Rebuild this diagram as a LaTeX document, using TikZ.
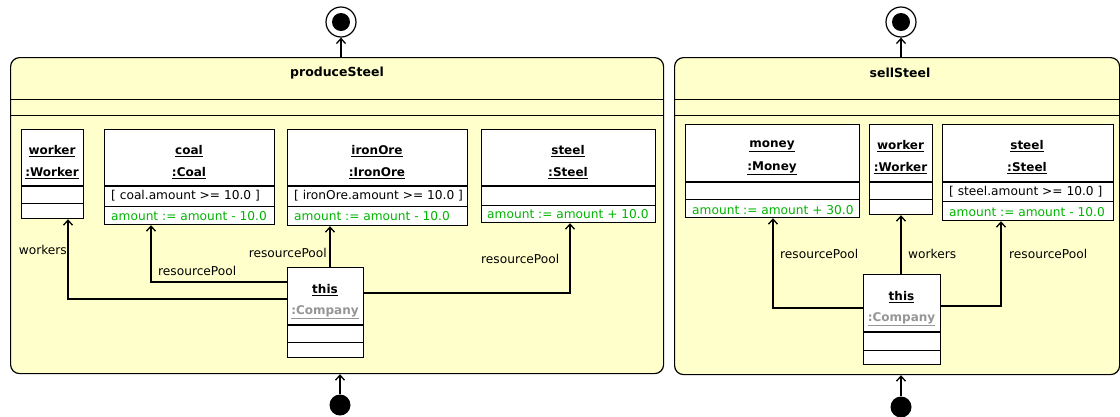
\documentclass[tikz,border=0pt]{standalone}
\usepackage{fontspec}
\setmainfont{DejaVu Sans}
\usetikzlibrary{arrows.meta,calc}
\definecolor{frameyellow}{RGB}{255,255,204}
\definecolor{actgreen}{RGB}{0,180,0}
\definecolor{compgray}{RGB}{150,150,150}
\begin{document}
\begin{tikzpicture}[x=1pt,y=-1pt,
  frame/.style={draw, line width=1.2pt, fill=frameyellow, rounded corners=9pt, anchor=north west, inner sep=0pt},
  objbox/.style={draw, line width=1.2pt, fill=white, anchor=north west, inner sep=0pt},
  sep/.style={line width=0.9pt},
  hsep/.style={line width=1.8pt},
  conn/.style={line width=1.3pt, -{Straight Barb[length=5pt,width=9pt,line width=1.3pt]}},
  title/.style={font=\fontsize{12.5}{14}\selectfont\bfseries, inner sep=0pt},
  hdr/.style={font=\fontsize{12}{14}\selectfont\bfseries, inner sep=0pt},
  txt/.style={font=\fontsize{12.2}{14}\selectfont, anchor=west, inner sep=0pt},
  gtxt/.style={txt, text=actgreen},
  lbl/.style={font=\fontsize{12.2}{14}\selectfont, inner sep=0pt},
  finout/.style={circle, draw, line width=1.2pt, fill=white, minimum size=30pt, inner sep=0pt},
  finin/.style={circle, fill=black, minimum size=18pt, inner sep=0pt},
  initst/.style={circle, fill=black, minimum size=21pt, inner sep=0pt},
]
\useasboundingbox (0,0) rectangle (1120,416);

% ---------------- produceSteel ----------------
\node[frame, minimum width=653pt, minimum height=316pt] (f1) at (10,57) {};
\node[title] (t1) at (337,73) {produceSteel};
\draw[sep] (10,99) -- (663,99);
\draw[sep] (10,115) -- (663,115);

\node[finout] (fin1) at (341,22) {};
\node[finin] (fin1in) at (341,22) {};
\draw[conn] (f1.north -| fin1) -- (fin1.south);
\node[initst] (init1) at (340,405) {};
\draw[conn] (init1.north) -- (init1.north |- f1.south);

% worker
\node[objbox, minimum width=62pt, minimum height=89pt] (worker1) at (21,129) {};
\draw[hsep] (21,186) -- (83,186);
\draw[sep] (21,203) -- (83,203);
\node[hdr] (worker1n) at (52,151) {\underline{worker}};
\node[hdr] (worker1t) at (52,173) {\underline{:Worker}};

% coal
\node[objbox, minimum width=170pt, minimum height=95pt] (coal1) at (104,129) {};
\draw[hsep] (104,186) -- (274,186);
\draw[sep] (104,206) -- (274,206);
\node[hdr] (coal1n) at (189,151) {\underline{coal}};
\node[hdr] (coal1t) at (189,173) {\underline{:Coal}};
\node[txt] (coal1g) at (111,196) {[ coal.amount >= 10.0 ]};
\node[gtxt] (coal1a) at (111,216) {amount := amount - 10.0};

% ironOre
\node[objbox, minimum width=180pt, minimum height=96pt] (iron1) at (287,129) {};
\draw[hsep] (287,186) -- (467,186);
\draw[sep] (287,206) -- (467,206);
\node[hdr] (iron1n) at (377,151) {\underline{ironOre}};
\node[hdr] (iron1t) at (377,173) {\underline{:IronOre}};
\node[txt] (iron1g) at (294,196) {[ ironOre.amount >= 10.0 ]};
\node[gtxt] (iron1a) at (294,216) {amount := amount - 10.0};

% steel
\node[objbox, minimum width=174pt, minimum height=93pt] (steel1) at (481,129) {};
\draw[hsep] (481,186) -- (655,186);
\draw[sep] (481,205) -- (655,205);
\node[hdr] (steel1n) at (568,151) {\underline{steel}};
\node[hdr] (steel1t) at (568,173) {\underline{:Steel}};
\node[gtxt] (steel1a) at (487,214) {amount := amount + 10.0};

% this
\node[objbox, minimum width=76pt, minimum height=90pt] (this1) at (287,267) {};
\draw[hsep] (287,325) -- (363,325);
\draw[sep] (287,342) -- (363,342);
\node[hdr] (this1n) at (325,290) {\underline{this}};
\node[hdr, text=compgray] (this1t) at (325,312) {\underline{:Company}};

% connectors
\draw[conn] ($(this1.north west)+(0,32)$) -| ($(worker1.south west)+(47,0)$);
\node[lbl, anchor=east] (l1) at (67,250) {workers};
\draw[conn] ($(this1.north west)+(0,15)$) -| ($(coal1.south west)+(47,0)$);
\node[lbl, anchor=west] (l2) at (158,271) {resourcePool};
\draw[conn] ($(this1.north west)+(43,0)$) -- ($(iron1.south west)+(43,0)$);
\node[lbl, anchor=east] (l3) at (327,253) {resourcePool};
\draw[conn] ($(this1.north east)+(0,26)$) -| ($(steel1.south west)+(89,0)$);
\node[lbl, anchor=west] (l4) at (481,259) {resourcePool};

% ---------------- sellSteel ----------------
\node[frame, minimum width=445pt, minimum height=317pt] (f2) at (674,57) {};
\node[title] (t2) at (900,73) {sellSteel};
\draw[sep] (674,99) -- (1119,99);
\draw[sep] (674,115) -- (1119,115);

\node[finout] (fin2) at (901,22) {};
\node[finin] (fin2in) at (901,22) {};
\draw[conn] (f2.north -| fin2) -- (fin2.south);
\node[initst] (init2) at (901,407) {};
\draw[conn] (init2.north) -- (init2.north |- f2.south);

% money
\node[objbox, minimum width=174pt, minimum height=93pt] (money2) at (685,124) {};
\draw[hsep] (685,182) -- (859,182);
\draw[sep] (685,199) -- (859,199);
\node[hdr] (money2n) at (772,146) {\underline{money}};
\node[hdr] (money2t) at (772,168) {\underline{:Money}};
\node[gtxt] (money2a) at (692,210) {amount := amount + 30.0};

% worker
\node[objbox, minimum width=63pt, minimum height=90pt] (worker2) at (869,124) {};
\draw[hsep] (869,182) -- (932,182);
\draw[sep] (869,199) -- (932,199);
\node[hdr] (worker2n) at (900.5,146) {\underline{worker}};
\node[hdr] (worker2t) at (900.5,168) {\underline{:Worker}};

% steel
\node[objbox, minimum width=171pt, minimum height=96pt] (steel2) at (942,124) {};
\draw[hsep] (942,182) -- (1113,182);
\draw[sep] (942,201) -- (1113,201);
\node[hdr] (steel2n) at (1027,146) {\underline{steel}};
\node[hdr] (steel2t) at (1027,168) {\underline{:Steel}};
\node[txt] (steel2g) at (949,192) {[ steel.amount >= 10.0 ]};
\node[gtxt] (steel2a) at (949,212) {amount := amount - 10.0};

% this
\node[objbox, minimum width=77pt, minimum height=90pt] (this2) at (863,274) {};
\draw[hsep] (863,332) -- (940,332);
\draw[sep] (863,350) -- (940,350);
\node[hdr] (this2n) at (901.5,297) {\underline{this}};
\node[hdr, text=compgray] (this2t) at (901.5,319) {\underline{:Company}};

% connectors
\draw[conn] ($(this2.north west)+(0,34)$) -| ($(money2.south west)+(88,0)$);
\node[lbl, anchor=west] (l5) at (780,254) {resourcePool};
\draw[conn] ($(this2.north west)+(38,0)$) -- ($(worker2.south west)+(32,0)$);
\node[lbl, anchor=west] (l6) at (908,254) {workers};
\draw[conn] ($(this2.north east)+(0,32)$) -| ($(steel2.south west)+(59,0)$);
\node[lbl, anchor=west] (l7) at (1009,254) {resourcePool};
\end{tikzpicture}
\end{document}
